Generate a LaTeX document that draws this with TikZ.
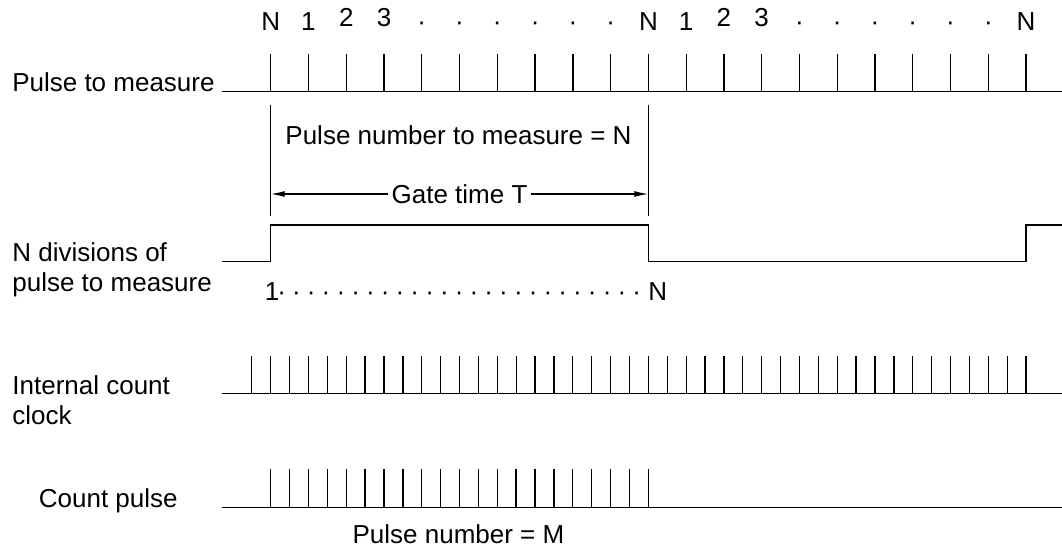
\documentclass[tikz,border=0pt]{standalone}
\usepackage{fontspec}
\setmainfont{Liberation Sans}
\usetikzlibrary{arrows.meta,calc,positioning}

\begin{document}
\begin{tikzpicture}[
  x=0.5pt, y=-0.5pt,
  >={Latex[length=7pt,width=3pt]},
  font=\fontsize{13}{15}\selectfont,
  wave/.style={line width=0.65pt, black},
  guide/.style={line width=0.65pt, black},
  gate/.style={<->, line width=0.65pt, black},
  lbl/.style={inner sep=0pt},
  signame/.style={inner sep=0pt, align=left, anchor=north west}
]
\useasboundingbox (0,0) rectangle (1062,555);

% signal names
\node[lbl, anchor=base east] (pulsename) at (215,91.7) {Pulse to measure};
\node[signame] (divname) at (12,242.5) {N divisions of\\pulse to measure};
\node[signame] (clockname) at (12,374.8) {Internal count\\clock};
\node[lbl, anchor=base west] (countname) at (38.5,507.7) {Count pulse};

% pulse numbering
\foreach \lab/\dy [count=\k from 0] in {N/0,1/0,2/4,3/4,·/0,·/0,·/0,·/0,·/0,·/0,N/0,1/0,2/4,3/4,·/0,·/0,·/0,·/0,·/0,·/0,N/0}
  \node[lbl, anchor=base] (num\k) at ({270.7+\k*37.77},{30.7-\dy}) {\lab};

% pulse to measure
\draw[wave] (221.7,91.7) -- (1062,91.7);
\foreach \k in {0,...,20}
  \draw[wave] ({270.7+\k*37.77},91.7) -- ++(0,-37.7);

% gate
\draw[guide] (270.7,105) -- (270.7,216);
\draw[guide] (648.3,105) -- (648.3,216);
\node[lbl, anchor=base] (pulsecount) at (458.5,145) {Pulse number to measure = N};
\coordinate (gatel) at (270.7,194);
\coordinate (gater) at (648.3,194);
\draw[gate] (gatel) -- node[fill=white, inner xsep=2pt, inner ysep=0pt] (gatetext) {Gate time T} (gater);

% N divisions
\draw[wave] (221.7,261.7) -| (270.7,225) -| (648.3,261.7) -| (1026,225) -- (1062,225);
\node[lbl, anchor=base west] (divfirst) at (264.5,301) {1};
\foreach \k in {0,...,24}
  \node[lbl, anchor=base] (divdot\k) at ({281.7+\k*14.79},301) {·};
\node[lbl, anchor=base west] (divlast) at (648,301) {N};

% internal count clock
\draw[wave] (221.7,393.3) -- (1062,393.3);
\foreach \k in {0,...,41}
  \draw[wave] ({251.8+\k*18.885},393.3) -- ++(0,-37.3);

% count pulse
\draw[wave] (221.7,507.7) -- (1062,507.7);
\foreach \k in {0,...,20}
  \draw[wave] ({270.7+\k*18.88},507.7) -- ++(0,-38.4);
\node[lbl, anchor=base] (countnum) at (458.5,544) {Pulse number = M};

\end{tikzpicture}
\end{document}
